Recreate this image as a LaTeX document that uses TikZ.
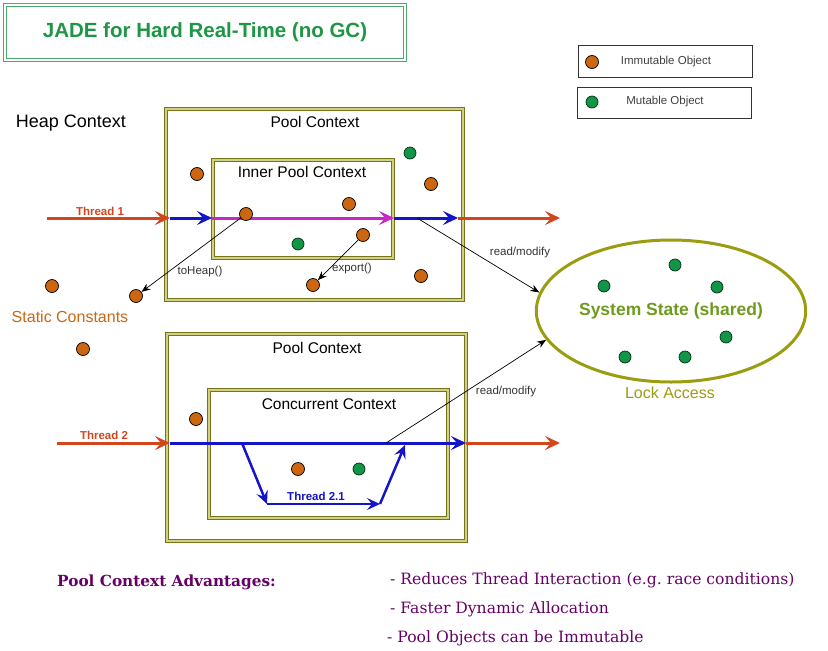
\documentclass[tikz,border=0pt]{standalone}
\usepackage{fontspec}
\setmainfont{Liberation Sans}
\newfontfamily\advfont{DejaVu Serif}
\usetikzlibrary{arrows.meta,shapes.geometric}
\tikzset{>={Stealth[width=7pt,length=9pt]}}

\definecolor{titlegreen}{HTML}{1E9646}
\definecolor{poololive}{HTML}{757515}
\definecolor{poollight}{HTML}{D0D088}
\definecolor{lockolive}{HTML}{9C9C10}
\definecolor{statetext}{HTML}{6E9A1E}
\definecolor{threadred}{HTML}{D2461E}
\definecolor{threadblue}{HTML}{1414C8}
\definecolor{innermag}{HTML}{C828C8}
\definecolor{objorange}{HTML}{CC6610}
\definecolor{objgreen}{HTML}{109646}
\definecolor{advpurple}{HTML}{660066}

\tikzset{
  ctxbox/.style={draw=poololive, double=poollight, double distance=1.4pt, line width=1.5pt, inner sep=0pt},
  ctxlabel/.style={font=\fontsize{15.5}{18}\selectfont},
  legbox/.style={draw=black!80, line width=0.8pt, inner sep=0pt},
  legtext/.style={font=\fontsize{11.5}{13}\selectfont, text=black!75},
  thread/.style={line width=3pt, -{Stealth[length=15pt,width=14pt,inset=6pt]}},
  subthread/.style={line width=2.5pt, -{Stealth[length=13pt,width=12pt,inset=5pt]}},
  threadlabel/.style={font=\bfseries\fontsize{11.5}{13}\selectfont},
  immut/.style={circle, draw=black, line width=0.7pt, fill=objorange, minimum size=13pt, inner sep=0pt},
  mutobj/.style={circle, draw=black!70!objgreen, line width=0.7pt, fill=objgreen, minimum size=12pt, inner sep=0pt},
  smalllabel/.style={font=\fontsize{11.5}{13}\selectfont, text=black!80},
  call/.style={->, line width=0.7pt},
  advitem/.style={anchor=west, inner sep=0pt, text=advpurple, font=\advfont\fontsize{15.6}{18}\selectfont},
}

\begin{document}
\begin{tikzpicture}[x=1pt,y=-1pt]

  \useasboundingbox (0,0) rectangle (828,651);

  %% title and legend
  \node[draw=titlegreen!80, double=white, double distance=2pt, line width=0.9pt,
        minimum width=400pt, minimum height=55pt, text=titlegreen,
        font=\bfseries\fontsize{20.5}{24}\selectfont] (title) at (205,32.5) {JADE for Hard Real-Time (no GC)};

  \node[legbox, minimum width=174pt, minimum height=32pt] (legimm) at (665,61) {};
  \node[immut] (legdotimm) at (592,62) {};
  \node[legtext] (legtxtimm) at (666,62) {Immutable Object};
  \node[legbox, minimum width=174pt, minimum height=31pt] (legmut) at (664,102.5) {};
  \node[mutobj] (legdotmut) at (592,102) {};
  \node[legtext] (legtxtmut) at (665,102) {Mutable Object};

  %% heap
  \node[font=\fontsize{18}{20}\selectfont] (heap) at (71,123) {Heap Context};
  \node[text=objorange, font=\fontsize{16}{18}\selectfont] (static) at (70,317) {Static Constants};

  %% pool contexts
  \node[ctxbox, minimum width=297pt, minimum height=191pt] (pool1) at (314.5,204.5) {};
  \node[ctxlabel] (pool1lbl) at (315,122) {Pool Context};
  \node[ctxbox, minimum width=180pt, minimum height=98pt] (inner) at (303,209) {};
  \node[ctxlabel] (innerlbl) at (302,172) {Inner Pool Context};

  \node[ctxbox, minimum width=299pt, minimum height=207pt] (pool2) at (316.5,437.5) {};
  \node[ctxlabel] (pool2lbl) at (317,348) {Pool Context};
  \node[ctxbox, minimum width=239pt, minimum height=128pt] (conc) at (328.5,454) {};
  \node[ctxlabel] (conclbl) at (329,404) {Concurrent Context};

  %% system state
  \node[ellipse, draw=lockolive, line width=3pt, minimum width=261pt, minimum height=142pt,
        text=statetext, font=\bfseries\fontsize{17.5}{20}\selectfont] (state) at (671,311) {System State (shared)};
  \node[text=lockolive, font=\fontsize{16}{18}\selectfont] (lock) at (670,393) {Lock Access};

  %% thread 1
  \coordinate (t1s) at (47,218);
  \coordinate (t1a) at (170,218);
  \coordinate (t1b) at (212,218);
  \coordinate (t1c) at (394,218);
  \coordinate (t1d) at (458,218);
  \coordinate (t1e) at (560,218);
  \coordinate (rm1) at (417,218);
  \draw[thread, threadred] (t1s) -- (t1a);
  \draw[thread, threadblue] (t1a) -- (t1b);
  \draw[thread, innermag] (t1b) -- (t1c);
  \draw[thread, threadblue] (t1c) -- (t1d);
  \draw[thread, threadred] (t1d) -- (t1e);
  \node[threadlabel, text=threadred] (t1lbl) at (100,211) {Thread 1};

  %% thread 2
  \coordinate (t2s) at (57,443);
  \coordinate (t2a) at (170,443);
  \coordinate (t2b) at (466,443);
  \coordinate (t2e) at (560,443);
  \coordinate (rm2) at (386,443);
  \draw[thread, threadred] (t2s) -- (t2a);
  \draw[thread, threadblue] (t2a) -- (t2b);
  \draw[thread, threadred] (t2b) -- (t2e);
  \node[threadlabel, text=threadred] (t2lbl) at (104,435) {Thread 2};

  \coordinate (t21a) at (242,443);
  \coordinate (t21b) at (267,504);
  \coordinate (t21c) at (380,504);
  \coordinate (t21d) at (405,445);
  \draw[subthread, threadblue] (t21a) -- (t21b);
  \draw[subthread, threadblue] (t21b) -- (t21c);
  \draw[subthread, threadblue] (t21c) -- (t21d);
  \node[threadlabel, text=threadblue] (t21lbl) at (316,496) {Thread 2.1};

  %% objects
  \node[immut] (h1) at (52,286) {};
  \node[immut] (h2) at (136,296) {};
  \node[immut] (h3) at (83,349) {};

  \node[immut] (p1a) at (197,174) {};
  \node[mutobj] (p1b) at (410,153) {};
  \node[immut] (p1c) at (431,184) {};
  \node[immut] (p1d) at (246,214) {};
  \node[immut] (p1e) at (349,204) {};
  \node[mutobj] (p1f) at (298,244) {};
  \node[immut] (p1g) at (363,235) {};
  \node[immut] (p1h) at (313,285) {};
  \node[immut] (p1i) at (421,276) {};

  \node[immut] (p2a) at (196,419) {};
  \node[immut] (p2b) at (298,469) {};
  \node[mutobj] (p2c) at (359,469) {};

  \foreach \n/\p in {s1/{604,286}, s2/{675,265}, s3/{717,287}, s4/{726,337}, s5/{625,357}, s6/{685,357}}
    \node[mutobj] (\n) at (\p) {};

  %% calls
  \draw[call] (p1d) -- (h2); %% toHeap
  \node[smalllabel] (toheap) at (200,272) {toHeap()};
  \draw[call] (p1g) -- (p1h); %% export
  \node[smalllabel] (export) at (352,269) {export()};
  \draw[call] (rm1) -- (state.172);
  \node[smalllabel] (rm1lbl) at (520,253) {read/modify};
  \draw[call] (rm2) -- (state.193);
  \node[smalllabel] (rm2lbl) at (506,392) {read/modify};

  %% advantages
  \node[anchor=west, inner sep=0pt, text=advpurple, font=\advfont\bfseries\fontsize{15.3}{18}\selectfont] (advhead) at (57,582) {Pool Context Advantages:};
  \node[advitem] (adv1) at (390,580) {- Reduces Thread Interaction (e.g.\ race conditions)};
  \node[advitem] (adv2) at (390,609) {- Faster Dynamic Allocation};
  \node[advitem] (adv3) at (387,638) {- Pool Objects can be Immutable};

\end{tikzpicture}
\end{document}
